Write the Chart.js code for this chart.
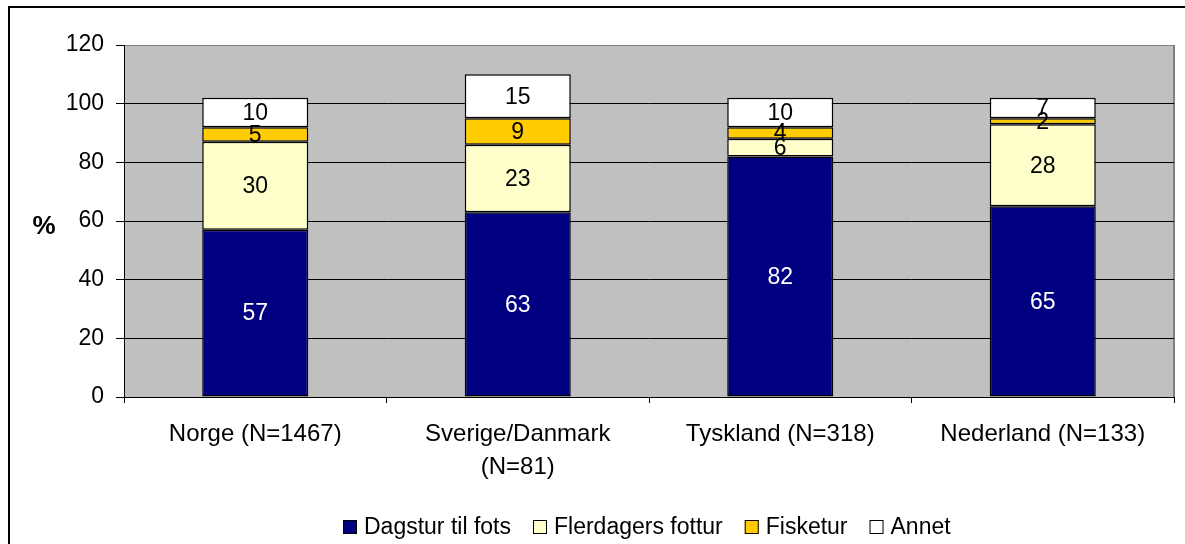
<!DOCTYPE html>
<html>
<head>
<meta charset="utf-8">
<script src="https://cdn.jsdelivr.net/npm/chart.js@4/dist/chart.umd.min.js"></script>
<style>
  body { margin: 0; background: #fff; }
  #wrap { width: 1185px; height: 544px; }
</style>
</head>
<body>
<div id="wrap"><canvas id="chart" width="1185" height="544"></canvas></div>
<script>
// Data
const categories = ['Norge (N=1467)', ['Sverige/Danmark', '(N=81)'], 'Tyskland (N=318)', 'Nederland (N=133)'];
const dagstur = [57, 63, 82, 65];
const flerdagers = [30, 23, 6, 28];
const fisketur = [5, 9, 4, 2];
const annet = [10, 15, 10, 7];
const yTicks = [0, 20, 40, 60, 80, 100, 120];

const FONT = "'Liberation Sans', Arial, sans-serif";

// Grey plot background, outer border, % label
const backgroundPlugin = {
    id: 'background',
    beforeDraw(chart) {
        const ctx = chart.ctx;
        const a = chart.chartArea;
        ctx.save();
        ctx.fillStyle = '#fff';
        ctx.fillRect(0, 0, chart.width, chart.height);
        ctx.strokeStyle = '#000';
        ctx.lineWidth = 2;
        ctx.strokeRect(9, 7, 1300, 700);
        ctx.fillStyle = '#C0C0C0';
        ctx.fillRect(a.left, a.top, a.right - a.left, a.bottom - a.top);
        ctx.strokeStyle = '#808080';
        ctx.lineWidth = 2;
        ctx.beginPath();
        ctx.moveTo(a.right, a.top);
        ctx.lineTo(a.right, a.bottom);
        ctx.stroke();
        ctx.fillStyle = '#000';
        ctx.font = 'bold 26px ' + FONT;
        ctx.textAlign = 'center';
        ctx.textBaseline = 'middle';
        ctx.fillText('%', 44, 227);
        ctx.restore();
    }
};

// Values in the middle of each segment
const valueLabels = {
    id: 'valueLabels',
    afterDatasetsDraw(chart) {
        const ctx = chart.ctx;
        ctx.save();
        ctx.font = '23px ' + FONT;
        ctx.textAlign = 'center';
        ctx.textBaseline = 'middle';
        chart.data.datasets.forEach((ds, i) => {
            const meta = chart.getDatasetMeta(i);
            meta.data.forEach((bar, j) => {
                const y = (bar.y + bar.base) / 2;
                ctx.fillStyle = i === 0 ? '#fff' : '#000';
                ctx.fillText(ds.data[j], bar.x, y + 1);
            });
        });
        ctx.restore();
    }
};

// Legend drawn at fixed place
const customLegend = {
    id: 'customLegend',
    afterDraw(chart) {
        const ctx = chart.ctx;
        ctx.save();
        ctx.font = '23px ' + FONT;
        ctx.textBaseline = 'middle';
        let x = 343;
        const y = 527;
        chart.data.datasets.forEach(ds => {
            ctx.fillStyle = ds.backgroundColor;
            ctx.fillRect(x, y - 7, 14, 14);
            ctx.strokeStyle = '#000';
            ctx.lineWidth = 1;
            ctx.strokeRect(x + 0.5, y - 6.5, 13, 13);
            ctx.fillStyle = '#000';
            ctx.fillText(ds.label, x + 21, y + 1);
            x += 21 + ctx.measureText(ds.label).width + 22;
        });
        ctx.restore();
    }
};

const barOpts = { borderColor: '#000', borderWidth: 1.5, borderSkipped: false, barPercentage: 0.404, categoryPercentage: 1 };

new Chart(document.getElementById('chart'), {
    type: 'bar',
    data: {
        labels: categories,
        datasets: [
            { label: 'Dagstur til fots', data: dagstur, backgroundColor: '#000080', ...barOpts },
            { label: 'Flerdagers fottur', data: flerdagers, backgroundColor: '#FFFFCC', ...barOpts },
            { label: 'Fisketur', data: fisketur, backgroundColor: '#FFCC00', ...barOpts },
            { label: 'Annet', data: annet, backgroundColor: '#FFFFFF', ...barOpts }
        ]
    },
    options: {
        responsive: false,
        animation: false,
        layout: { padding: { top: 45, right: 11, bottom: 47, left: 0 } },
        plugins: {
            legend: { display: false },
            tooltip: { enabled: false }
        },
        scales: {
            x: {
                stacked: true,
                grid: { offset: true, drawOnChartArea: false, drawTicks: true, tickLength: 6, color: '#000' },
                border: { color: '#000', width: 1 },
                ticks: { color: '#000', font: { family: FONT, size: 24, lineHeight: 1.375 }, padding: 15, maxRotation: 0, autoSkip: false },
                afterFit(scale) { scale.height = 100; }
            },
            y: {
                stacked: true,
                min: 0,
                max: 120,
                afterBuildTicks(scale) { scale.ticks = yTicks.map(v => ({ value: v })); },
                grid: {
                    color: ctx => (ctx.tick && ctx.tick.value === 120) ? '#808080' : '#000',
                    lineWidth: 1,
                    tickLength: 8,
                    tickColor: '#000'
                },
                border: { color: '#000', width: 1 },
                ticks: { color: '#000', font: { family: FONT, size: 23 }, padding: 12 },
                afterFit(scale) { scale.width = 124; }
            }
        }
    },
    plugins: [backgroundPlugin, valueLabels, customLegend]
});
</script>
</body>
</html>
